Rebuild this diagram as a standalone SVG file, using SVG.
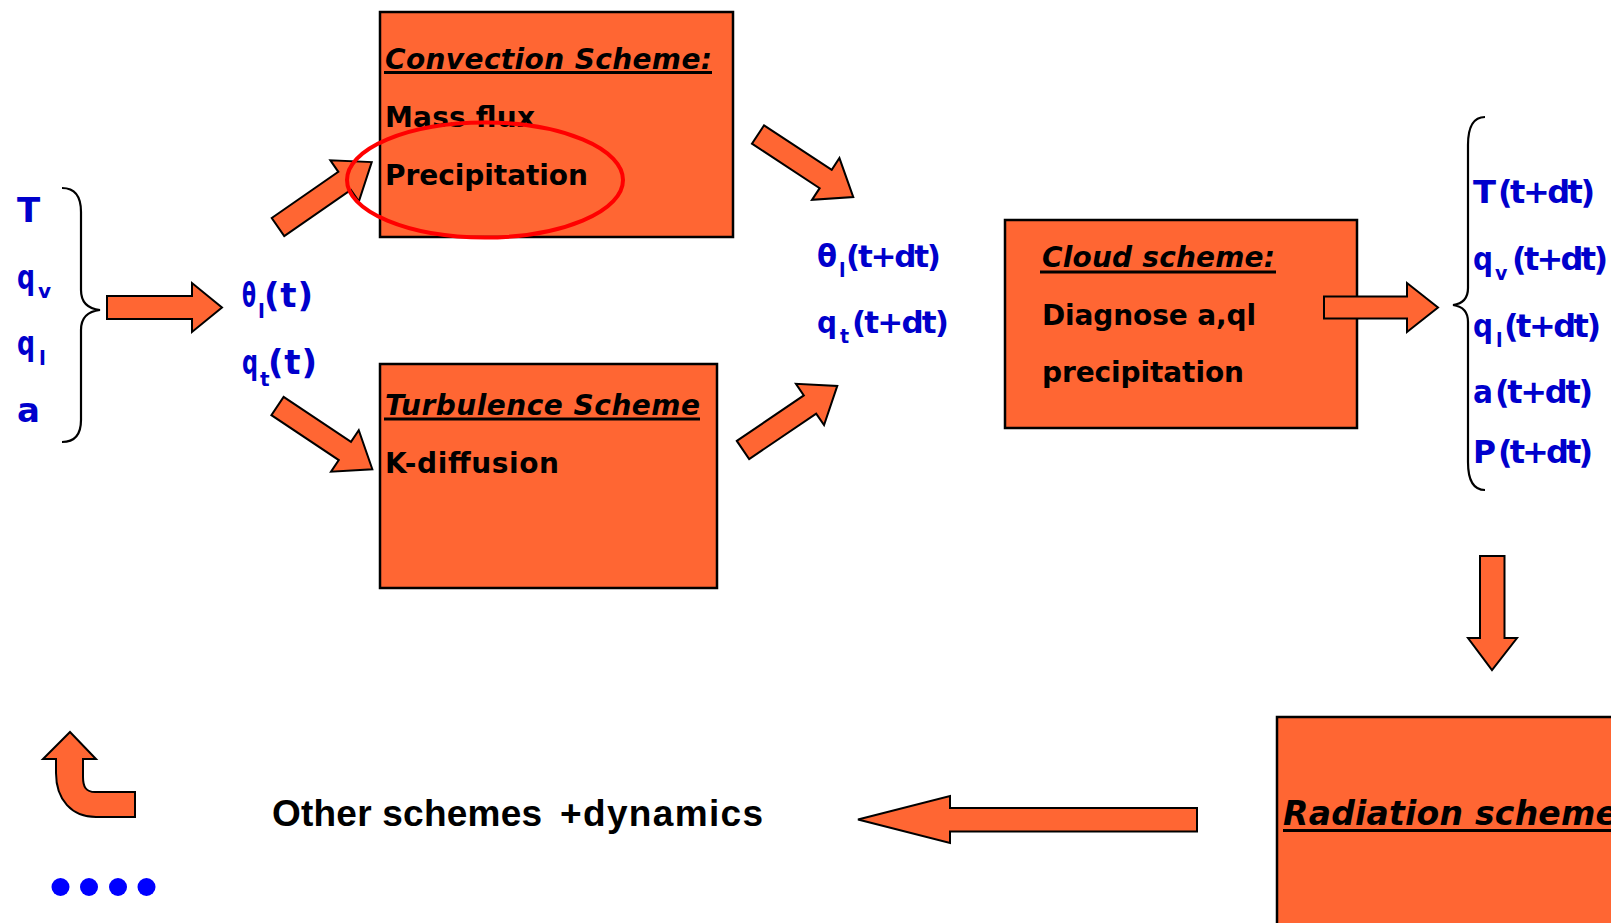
<svg xmlns="http://www.w3.org/2000/svg" xmlns:xlink="http://www.w3.org/1999/xlink" width="1611" height="923" viewBox="0 0 1611 923">
<style>
.box{fill:#FF6633;stroke:#000;stroke-width:2.5}
.arr{fill:#FF6633;stroke:#000;stroke-width:2;stroke-linejoin:miter}
.brace{fill:none;stroke:#000;stroke-width:2.2}
.bl{font-family:"DejaVu Sans",Verdana,sans-serif;font-weight:bold;fill:#0000CC}
.bt{font-family:"DejaVu Sans",Verdana,sans-serif;font-weight:bold;fill:#000;font-size:28px}
.bi{font-family:"DejaVu Sans",Verdana,sans-serif;font-weight:bold;font-style:italic;fill:#000}
.ul{stroke:#000;stroke-width:3}
</style>
<defs>
<polygon id="diag" points="0,-11 81,-11 81,-25 114,0 81,25 81,11 0,11"/>
</defs>
<rect width="1611" height="923" fill="#fff"/>

<g id="inputs">
<text class="bl" font-size="34" x="17" y="222">T</text>
<text class="bl" font-size="34" x="17" y="289"><tspan textLength="18" lengthAdjust="spacingAndGlyphs">q</tspan><tspan font-size="20" x="38" y="298">v</tspan></text>
<text class="bl" font-size="34" x="17" y="355"><tspan textLength="18" lengthAdjust="spacingAndGlyphs">q</tspan><tspan font-size="20" x="39" y="365">l</tspan></text>
<text class="bl" font-size="34" x="17" y="422">a</text>
<path class="brace" d="M62,188 Q81,188 81,212 L81,290 Q81,308 100,310 Q81,312 81,330 L81,420 Q81,442 62,442"/>
</g>

<g id="state-t">
<text class="bl" font-size="34" x="242" y="307"><tspan textLength="14" lengthAdjust="spacingAndGlyphs">θ</tspan><tspan font-size="20" x="258" y="318">l</tspan><tspan x="264" y="307" textLength="49">(t)</tspan></text>
<text class="bl" font-size="34" x="242" y="374"><tspan textLength="16" lengthAdjust="spacingAndGlyphs">q</tspan><tspan font-size="20" x="260" y="386">t</tspan><tspan x="268" y="374" textLength="49">(t)</tspan></text>
</g>

<g id="convection">
<rect class="box" x="380" y="12" width="353" height="225"/>
<text class="bi" font-size="28" x="385" y="69" textLength="327">Convection Scheme:</text>
<line class="ul" x1="384" y1="72.5" x2="712" y2="72.5"/>
<text class="bt" x="385" y="127" textLength="150">Mass flux</text>
<text class="bt" x="385" y="185" textLength="203">Precipitation</text>
</g>

<g id="turbulence">
<rect class="box" x="380" y="364" width="337" height="224"/>
<text class="bi" font-size="28" x="385" y="415" textLength="315">Turbulence Scheme</text>
<line class="ul" x1="384" y1="419" x2="700" y2="419"/>
<text class="bt" x="385" y="473" textLength="174">K-diffusion</text>
</g>

<g id="state-tdt">
<text class="bl" font-size="31" x="817" y="267"><tspan textLength="20" lengthAdjust="spacingAndGlyphs">θ</tspan><tspan font-size="19" x="839" y="277">l</tspan><tspan x="846" y="267" textLength="95">(t+dt)</tspan></text>
<text class="bl" font-size="31" x="817" y="333"><tspan textLength="20" lengthAdjust="spacingAndGlyphs">q</tspan><tspan font-size="19" x="840" y="343">t</tspan><tspan x="852" y="333" textLength="97">(t+dt)</tspan></text>
</g>

<g id="cloud">
<rect class="box" x="1005" y="220" width="352" height="208"/>
<text class="bi" font-size="28" x="1042" y="267" textLength="233">Cloud scheme:</text>
<line class="ul" x1="1040" y1="272" x2="1276" y2="272"/>
<text class="bt" x="1042" y="325" textLength="214">Diagnose a,ql</text>
<text class="bt" x="1042" y="382" textLength="202">precipitation</text>
</g>

<g id="outputs">
<path class="brace" d="M1485,117 Q1468,117 1468,145 L1468,288 Q1468,303 1453,305 Q1468,307 1468,322 L1468,462 Q1468,490 1485,490"/>
<text class="bl" font-size="32" x="1473" y="203"><tspan textLength="23" lengthAdjust="spacingAndGlyphs">T</tspan><tspan x="1498" textLength="97">(t+dt)</tspan></text>
<text class="bl" font-size="32" x="1473" y="270"><tspan textLength="20" lengthAdjust="spacingAndGlyphs">q</tspan><tspan font-size="19" x="1495" y="280">v</tspan><tspan x="1512" y="270" textLength="96">(t+dt)</tspan></text>
<text class="bl" font-size="32" x="1473" y="337"><tspan textLength="20" lengthAdjust="spacingAndGlyphs">q</tspan><tspan font-size="19" x="1496" y="347">l</tspan><tspan x="1504" y="337" textLength="97">(t+dt)</tspan></text>
<text class="bl" font-size="32" x="1473" y="403"><tspan textLength="20" lengthAdjust="spacingAndGlyphs">a</tspan><tspan x="1495" textLength="98">(t+dt)</tspan></text>
<text class="bl" font-size="32" x="1473" y="463"><tspan textLength="23" lengthAdjust="spacingAndGlyphs">P</tspan><tspan x="1498" textLength="95">(t+dt)</tspan></text>
</g>

<g id="radiation">
<rect class="box" x="1277" y="717" width="400" height="300"/>
<text class="bi" font-size="33" x="1283" y="825" textLength="335">Radiation scheme</text>
<line class="ul" x1="1283" y1="830.5" x2="1620" y2="830.5"/>
</g>

<g id="other">
<text font-family="'Liberation Sans',Arial,sans-serif" font-weight="bold" font-size="37" x="272" y="826"><tspan textLength="270">Other schemes</tspan><tspan x="560" textLength="203">+dynamics</tspan></text>
</g>

<g id="ellipsis">
<circle cx="60.5" cy="887" r="9" fill="#0000FF"/>
<circle cx="89" cy="887" r="9" fill="#0000FF"/>
<circle cx="118" cy="887" r="9" fill="#0000FF"/>
<circle cx="146.5" cy="887" r="9" fill="#0000FF"/>
</g>

<g id="connectors">
<polygon class="arr" points="107,296 192,296 192,283 222,307.5 192,332 192,319 107,319"/>
<use href="#diag" class="arr" transform="translate(278,227) rotate(-34.7)"/>
<use href="#diag" class="arr" transform="translate(277.5,406) rotate(33.7)"/>
<use href="#diag" class="arr" transform="translate(758,134.5) rotate(33.3)"/>
<use href="#diag" class="arr" transform="translate(743,450) rotate(-34.2)"/>
<polygon class="arr" points="1324,296.5 1407,296.5 1407,283 1438,307.5 1407,332 1407,318.5 1324,318.5"/>
<polygon class="arr" points="1480,556 1504.5,556 1504.5,638 1517,638 1492,670 1468,638 1480,638"/>
<polygon class="arr" points="1197,808 950,808 950,796 858,819.5 950,843 950,831.5 1197,831.5"/>
<path class="arr" d="M70,732 L96,759 L83,759 L83,777 C83,787 86,792 95,792 L135,792 L135,817 L96,817 C72,817 56,800 56,773 L56,759 L43,759 Z"/>
</g>

<g id="highlight">
<ellipse cx="485" cy="180" rx="138" ry="57.5" fill="none" stroke="#FF0000" stroke-width="4"/>
</g>
</svg>
